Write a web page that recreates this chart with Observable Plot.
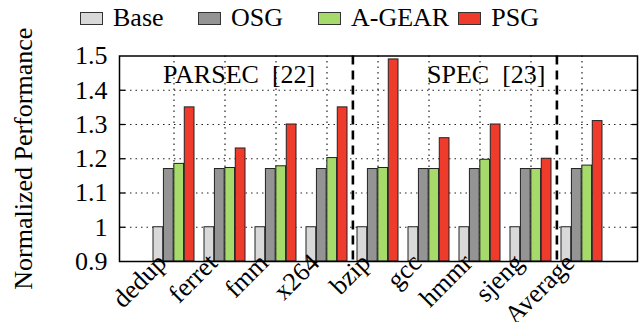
<!DOCTYPE html>
<html>
<head>
<meta charset="utf-8">
<script src="https://cdn.jsdelivr.net/npm/d3@7"></script>
<script src="https://cdn.jsdelivr.net/npm/@observablehq/plot@0.6"></script>
<style>
  html, body { margin: 0; padding: 0; background: #fff; }
  #wrap { position: relative; width: 639px; height: 322px; overflow: hidden; font-family: "Liberation Serif", "DejaVu Serif", serif; }
  #legend { position: absolute; left: 80px; top: 1px; display: flex; align-items: center; font-size: 26px; line-height: 34px; color: #000; z-index: 2; }
  .item { display: flex; align-items: center; white-space: nowrap; }
  .sw { width: 21px; height: 11px; border: 1px solid #333; margin-right: 10px; }
</style>
</head>
<body>
<div id="wrap"><div id="legend"></div></div>
<script>
const categories = ["dedup", "ferret", "fmm", "x264", "bzip", "gcc", "hmmr", "sjeng", "Average"];
const series = ["Base", "OSG", "A-GEAR", "PSG"];
const colors = ["#d9d9d9", "#949494", "#a6da6b", "#ef3b2c"];
const baseVals = [1, 1, 1, 1, 1, 1, 1, 1, 1];
const osgVals = [1.17, 1.17, 1.17, 1.17, 1.17, 1.17, 1.17, 1.17, 1.17];
const agearVals = [1.185, 1.173, 1.178, 1.202, 1.173, 1.17, 1.197, 1.17, 1.18];
const psgVals = [1.35, 1.23, 1.30, 1.35, 1.49, 1.26, 1.30, 1.20, 1.31];
const yTicks = [0.9, 1, 1.1, 1.2, 1.3, 1.4, 1.5];
const groupLabels = ["PARSEC  [22]", "SPEC  [23]"];
const groupStarts = ["dedup", "gcc"];
const separatorsAfter = ["x264", "sjeng"];
const yLabel = "Normalized Performance";

const valuesBySeries = [baseVals, osgVals, agearVals, psgVals];
const data = [];
series.forEach((s, si) => categories.forEach((c, ci) => data.push({category: c, series: s, si, value: valuesBySeries[si][ci]})));

// legend (HTML, over the top margin)
const legend = document.getElementById("legend");
const itemWidths = ["118px", "120px", "auto", "auto"];
series.forEach((s, i) => {
  const it = document.createElement("div");
  it.className = "item";
  it.style.width = itemWidths[i];
  if (i === 2) it.style.marginRight = "9px";
  it.innerHTML = `<span class="sw" style="background:${colors[i]}"></span><span>${s}</span>`;
  legend.appendChild(it);
});

const W = 639, H = 322, mL = 119, mR = 2, mT = 55.5, mB = 61;
const pInner = 0.195, pOuter = 0.5975;
const step = (W - mL - mR) / (categories.length - pInner + 2 * pOuter);
const bw = step * (1 - pInner);
const q = bw / 4;

const dotted = {stroke: "#222", strokeWidth: 1.2, strokeDasharray: "1.5,4"};
const groupDx = [-11, -2];

const plot = Plot.plot({
  width: W, height: H,
  marginLeft: mL, marginRight: mR, marginTop: mT, marginBottom: mB,
  style: {fontFamily: "'Liberation Serif', serif", fontSize: "26px", color: "#000", background: "transparent", overflow: "visible"},
  x: {type: "band", domain: categories, paddingInner: pInner, paddingOuter: pOuter},
  y: {domain: [yTicks[0], yTicks[yTicks.length - 1]]},
  color: {domain: series, range: colors},
  marks: [
    Plot.ruleY(yTicks.slice(1, -1), {y: d => d, ...dotted}),
    Plot.ruleX(categories, {x: d => d, ...dotted}),
    ...series.map((s, si) => Plot.barY(data.filter(d => d.series === s), {
      x: "category", y1: yTicks[0], y2: "value", fill: "series",
      stroke: "#222", strokeWidth: 1,
      insetLeft: si * q, insetRight: (3 - si) * q
    })),
    Plot.ruleX(separatorsAfter, {x: d => d, dx: step / 2, stroke: "#000", strokeWidth: 2.6, strokeDasharray: "9,6"}),
    ...groupLabels.map((g, i) => Plot.text([g], {x: () => groupStarts[i], y: 1.445, text: d => d, textAnchor: "start", dx: groupDx[i], fontSize: 26})),
    Plot.axisY(yTicks, {anchor: "left", tickSize: 0, tickPadding: 12, fontSize: 26,
      tickFormat: d => String(+d.toFixed(1)), label: yLabel, labelAnchor: "center", labelArrow: "none", labelOffset: 106}),
    Plot.axisY(yTicks.slice(1, -1), {anchor: "left", tickSize: -6, text: null, label: null, strokeWidth: 1.3}),
    Plot.axisY(yTicks.slice(1, -1), {anchor: "right", tickSize: -6, text: null, label: null, strokeWidth: 1.3}),
    Plot.axisX({tickSize: 0, tickRotate: -45, tickPadding: 0, dx: -12, dy: -3, fontSize: 26, label: null}),
    Plot.frame({stroke: "#000", strokeWidth: 1.5})
  ]
});
document.getElementById("wrap").appendChild(plot);
</script>
</body>
</html>
